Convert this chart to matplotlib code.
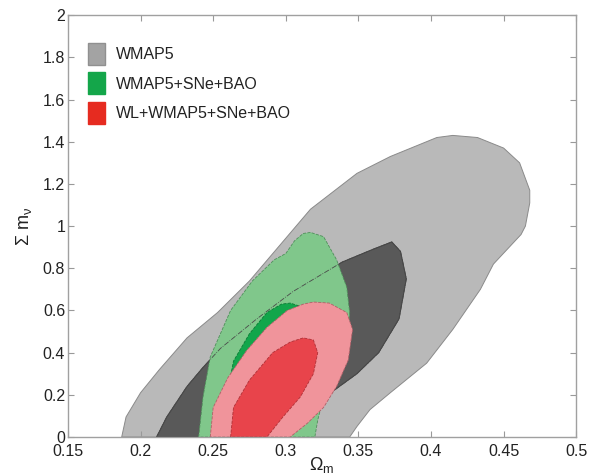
import matplotlib
matplotlib.use('Agg')
import matplotlib.pyplot as plt
from matplotlib.patches import Patch
from matplotlib.ticker import FuncFormatter

plt.rcParams['font.family'] = ['Liberation Sans', 'DejaVu Sans']
plt.rcParams['mathtext.fontset'] = 'custom'
plt.rcParams['mathtext.rm'] = 'Liberation Sans'
plt.rcParams['mathtext.it'] = 'Liberation Sans'

# WMAP5 alone, 95% and 68% regions (Omega_m, sum m_nu)
wmap5_95_x = [0.187, 0.190, 0.200, 0.213, 0.232, 0.253, 0.275, 0.296, 0.317, 0.349, 0.372,
              0.404, 0.415, 0.432, 0.450, 0.461, 0.468, 0.468, 0.465, 0.462, 0.443, 0.434,
              0.415, 0.397, 0.372, 0.358, 0.349, 0.344]
wmap5_95_y = [0.0, 0.095, 0.21, 0.32, 0.47, 0.59, 0.74, 0.91, 1.08, 1.25, 1.33,
              1.42, 1.43, 1.42, 1.37, 1.30, 1.17, 1.11, 1.00, 0.96, 0.82, 0.70,
              0.51, 0.35, 0.21, 0.13, 0.05, 0.0]
wmap5_68_x = [0.211, 0.218, 0.232, 0.243, 0.255, 0.280, 0.305, 0.339, 0.360, 0.373, 0.379,
              0.383, 0.378, 0.364, 0.349, 0.333, 0.310, 0.298]
wmap5_68_y = [0.0, 0.095, 0.24, 0.33, 0.42, 0.56, 0.69, 0.83, 0.89, 0.925, 0.88,
              0.75, 0.56, 0.40, 0.30, 0.22, 0.08, 0.0]

# WMAP5+SNe+BAO
sne_95_x = [0.240, 0.243, 0.248, 0.262, 0.277, 0.292, 0.300, 0.306, 0.312, 0.317, 0.326,
            0.335, 0.342, 0.344, 0.342, 0.335, 0.326, 0.322, 0.320]
sne_95_y = [0.0, 0.19, 0.38, 0.60, 0.74, 0.84, 0.87, 0.93, 0.965, 0.97, 0.95,
            0.84, 0.71, 0.59, 0.43, 0.32, 0.19, 0.08, 0.0]
sne_68_x = [0.257, 0.258, 0.264, 0.275, 0.287, 0.297, 0.303, 0.310, 0.316, 0.320, 0.320,
            0.315, 0.308, 0.300]
sne_68_y = [0.0, 0.15, 0.36, 0.49, 0.59, 0.63, 0.635, 0.62, 0.57, 0.50, 0.38,
            0.26, 0.14, 0.0]

# WL+WMAP5+SNe+BAO
wl_95_x = [0.248, 0.250, 0.260, 0.273, 0.287, 0.301, 0.312, 0.319, 0.330, 0.342, 0.346,
           0.343, 0.335, 0.326, 0.315, 0.303]
wl_95_y = [0.0, 0.14, 0.28, 0.41, 0.52, 0.60, 0.63, 0.64, 0.635, 0.59, 0.51,
           0.365, 0.24, 0.14, 0.066, 0.0]
wl_68_x = [0.262, 0.264, 0.275, 0.291, 0.303, 0.312, 0.319, 0.322, 0.319, 0.310, 0.298, 0.287]
wl_68_y = [0.0, 0.14, 0.27, 0.40, 0.45, 0.47, 0.46, 0.40, 0.30, 0.19, 0.095, 0.0]

labels = ['WMAP5', 'WMAP5+SNe+BAO', 'WL+WMAP5+SNe+BAO']
x_ticks = [0.15, 0.2, 0.25, 0.3, 0.35, 0.4, 0.45, 0.5]
y_ticks = [0, 0.2, 0.4, 0.6, 0.8, 1.0, 1.2, 1.4, 1.6, 1.8, 2.0]

fig = plt.figure(figsize=(5.91, 4.75), dpi=100)
ax = fig.add_axes([0.115, 0.08, 0.86, 0.888])

ax.fill(wmap5_95_x, wmap5_95_y, facecolor='#b9b9b9', edgecolor='#8a8a8a', lw=0.7, zorder=1)
ax.fill(wmap5_68_x, wmap5_68_y, facecolor='#595959', edgecolor='#404040', lw=0.7, zorder=2)
ax.fill(sne_95_x, sne_95_y, facecolor='#80c78b', edgecolor='#4f8f5a', lw=0.6, ls='--', zorder=3)
ax.fill(sne_68_x, sne_68_y, facecolor='#12a64b', edgecolor='#0b7a35', lw=0.6, ls='--', zorder=4)
# 68% WMAP5 contour line showing through the green regions
ax.plot(wmap5_68_x, wmap5_68_y, color='#4a4a4a', lw=0.6, ls='-.', zorder=4.5)
ax.fill(wl_95_x, wl_95_y, facecolor='#f0949b', edgecolor='#b06068', lw=0.6, ls='--', zorder=5)
ax.fill(wl_68_x, wl_68_y, facecolor='#e8444b', edgecolor='#b03036', lw=0.6, ls='--', zorder=6)

ax.set_xlim(0.15, 0.5)
ax.set_ylim(0, 2)
ax.set_xticks(x_ticks)
ax.set_yticks(y_ticks)
fmt = FuncFormatter(lambda v, p: '%g' % round(v, 2))
ax.xaxis.set_major_formatter(fmt)
ax.yaxis.set_major_formatter(fmt)

ax.tick_params(direction='in', length=4, width=0.8, color='#999999',
               top=True, right=True, labelsize=11.5, labelcolor='#222222')
ax.tick_params(axis='x', pad=5)
ax.tick_params(axis='y', pad=2)
for s in ax.spines.values():
    s.set_color('#a0a0a0')
    s.set_linewidth(1.0)
    s.set_zorder(10)

ax.set_xlabel(r'$\Omega_{\rm m}$', fontsize=13, color='#222222', labelpad=-3)
ax.set_ylabel(r'$\Sigma\ m_\nu$', fontsize=13, color='#222222', labelpad=6)

handles = [Patch(facecolor='#a3a3a3', edgecolor='#909090'),
           Patch(facecolor='#14a64a', edgecolor='#14a64a'),
           Patch(facecolor='#e62b20', edgecolor='#e62b20')]
ax.legend(handles, labels, loc='upper left', bbox_to_anchor=(0.039, 0.934),
          frameon=False, fontsize=11.5, handlelength=1.05, handleheight=1.75,
          handletextpad=0.7, labelspacing=0.45, borderpad=0, borderaxespad=0,
          labelcolor='#222222')

plt.savefig('out.png', dpi=100)
